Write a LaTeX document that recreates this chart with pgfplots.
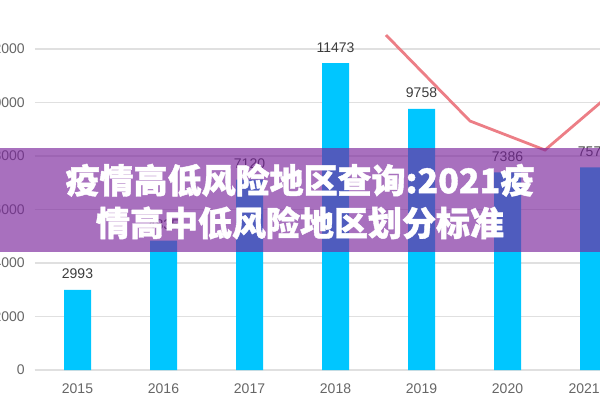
\documentclass[border=0pt]{standalone}
\usepackage{pgfplots}
\pgfplotsset{compat=1.18}
\usepackage{fontspec}
\setmainfont{Liberation Sans}
\newfontfamily\cjk{Noto Sans CJK SC}[BoldFeatures={FakeBold=1.2}]
\usetikzlibrary{calc}

\definecolor{barblue}{RGB}{0,198,255}
\definecolor{linered}{RGB}{236,126,134}
\definecolor{gridgray}{RGB}{224,224,224}
\definecolor{tickgray}{RGB}{102,102,102}
\definecolor{labelgray}{RGB}{60,60,60}
\definecolor{banner}{RGB}{122,37,156}

\begin{document}
\begin{tikzpicture}
  % 1 px of the reference = 0.75pt
  \begin{axis}[
      scale only axis, width=451.5pt, height=277.5pt,
      xmin=-0.5, xmax=6.5, ymin=0, ymax=13832,
      clip=false,
      axis x line*=bottom, axis y line*=left,
      x axis line style={draw=gridgray, line width=0.9pt, -},
      y axis line style={draw=none},
      major tick length=0pt,
      ymajorgrids, grid style={draw=gridgray, line width=0.8pt},
      ytick={0,2000,...,12000},
      scaled y ticks=false,
      xtick={0,...,6},
      xticklabels={2015,2016,2017,2018,2019,2020,2021(E)},
      /pgf/number format/1000 sep={},
      /pgf/number format/assume math mode=true,
      tick label style={font=\fontsize{10.5}{12}\selectfont, text=tickgray},
      yticklabel style={anchor=east, inner sep=0pt, xshift=-7.1pt},
      xticklabel style={anchor=base, inner sep=0pt, yshift=-17.5pt},
    ]
    \addplot[ybar, bar width=20.25pt, fill=barblue, draw=none,
      nodes near coords,
      every node near coord/.style={anchor=base, inner sep=0pt, yshift=8.25pt,
        font=\fontsize{10.5}{12}\selectfont, text=labelgray}]
      coordinates {(0,2993) (1,4835) (2,7120) (3,11473) (4,9758) (5,7386) (6,7577)};
    \addplot[linered, line width=2.1pt, mark=none]
      coordinates {(3.587,12523) (4.564,9308) (5.436,8224) (6.5,11145)};
    \coordinate (bl) at (axis cs:-0.9012,-1121);
    \coordinate (tr) at (axis cs:6.0756,13832);
    \coordinate (b1) at (axis cs:-1.0,8299);
    \coordinate (b2) at (axis cs:6.3,4411);
    \coordinate (tt) at (axis cs:2.587,6299);
  \end{axis}
  \fill[banner, opacity=0.655] (b1) rectangle (b2);
  \node[align=center, text=white, inner sep=0pt,
    font=\cjk\bfseries\fontsize{25.5}{32}\selectfont] at (tt)
    {疫情高低风险地区查询:2021疫\\情高中低风险地区划分标准};
  \pgfresetboundingbox
  \useasboundingbox (bl) rectangle (tr);
\end{tikzpicture}
\end{document}
